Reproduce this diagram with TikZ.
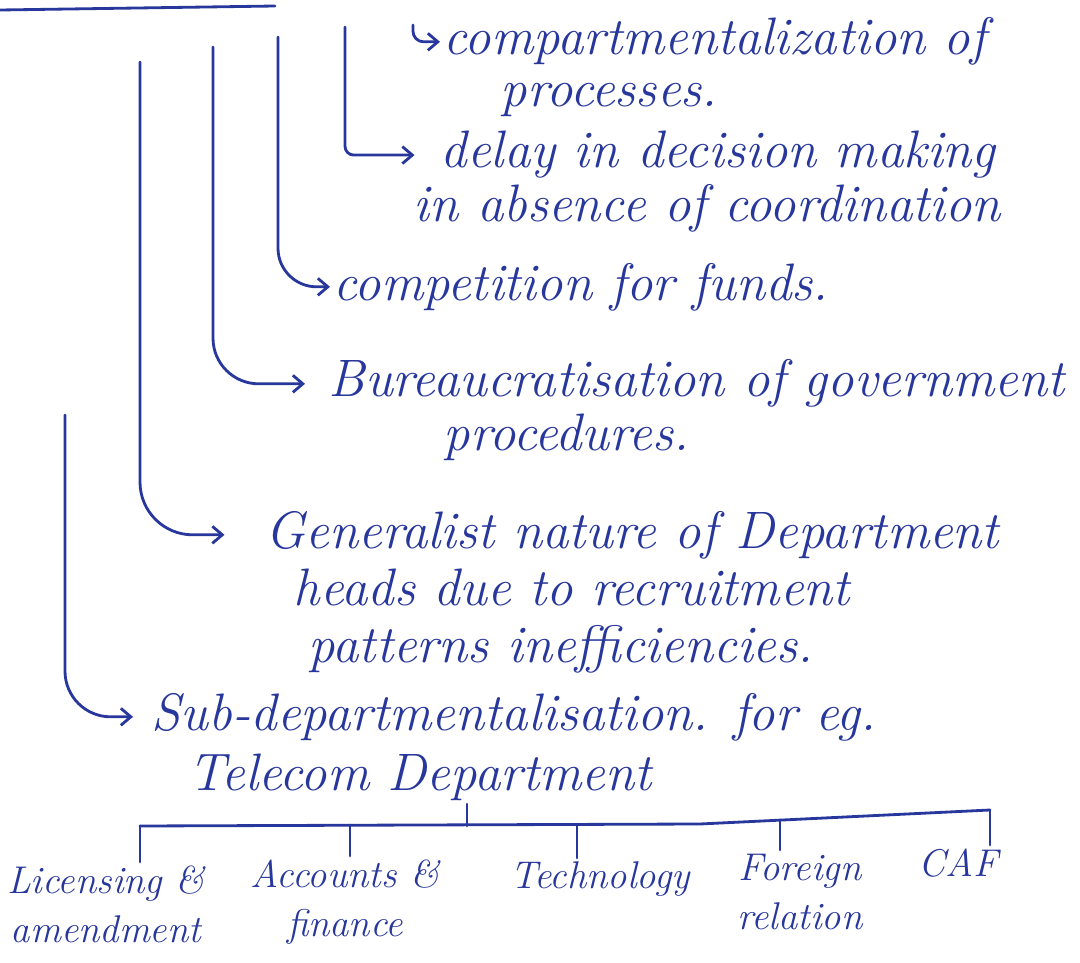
\documentclass[tikz,border=0pt]{standalone}
\usetikzlibrary{arrows.meta}
\definecolor{ink}{RGB}{40,55,155}
\begin{document}
\begin{tikzpicture}[x=0.02cm,y=-0.02cm,
  inkline/.style={draw=ink,line width=1.6pt,line cap=round,line join=round},
  arr/.style={inkline,-{Straight Barb[length=2mm,width=3.4mm,line width=1.6pt]}},
  txt/.style={text=ink,font=\fontsize{30}{36}\selectfont\itshape,anchor=base west,inner sep=2pt},
  leaf/.style={text=ink,font=\fontsize{22}{28}\selectfont\itshape,anchor=north,align=center,inner sep=2pt}]
\useasboundingbox (0,0) rectangle (1080,963);

% header underline (header text is cut off)
\draw[inkline] (0,10) -- (275,6);

% items
\node[txt] (comp)   at (440,55)  {compartmentalization of};
\node[txt] (comp2)  at (497,107) {processes.};
\node[txt] (delay)  at (437,168) {delay in decision making};
\node[txt] (delay2) at (410,222) {in absence of coordination};
\node[txt] (compet) at (330,300) {competition for funds.};
\node[txt] (bur)    at (325,397) {Bureaucratisation of government};
\node[txt] (bur2)   at (440,450) {procedures.};
\node[txt] (gen)    at (262,548) {Generalist nature of Department};
\node[txt] (gen2)   at (290,605) {heads due to recruitment};
\node[txt] (gen3)   at (305,662) {patterns inefficiencies.};
\node[txt] (sub)    at (148,730) {Sub-departmentalisation. for eg.};
\node[txt] (tel)    at (185,790) {Telecom Department};

% connectors
\coordinate (v4) at (413,25);
\coordinate (v3) at (345,27);
\coordinate (v2) at (278,37);
\coordinate (v1b) at (213,47);
\coordinate (v1) at (140,62);
\coordinate (v0) at (65,415);
\draw[arr,rounded corners=6]  (v4)  |- (comp.west);
\draw[arr,rounded corners=5,shorten >=0.45cm]  (v3)  |- (delay.west);
\draw[arr,rounded corners=22] (v2)  |- (compet.west);
\draw[arr,rounded corners=26,shorten >=0.4cm] (v1b) |- (bur.west);
\draw[arr,rounded corners=30,shorten >=0.75cm] (v1)  |- (gen.west);
\draw[arr,rounded corners=26,shorten >=0.3cm] (v0)  |- (sub.west);

% tree
\node[leaf] (lic)  at (106,862) {Licensing \&\\amendment};
\node[leaf] (acc)  at (345,856) {Accounts \&\\finance};
\node[leaf] (tech) at (600,858) {Technology};
\node[leaf] (for)  at (800,850) {Foreign\\relation};
\node[leaf] (caf)  at (958,845) {CAF};

\coordinate (bL) at (140,826);
\coordinate (bM) at (700,824);
\coordinate (bR) at (990,810);
\coordinate (root) at (467,826);
\coordinate (d2) at (350,825);
\coordinate (d3) at (577,825);
\coordinate (d4) at (780,820);
\draw[inkline] (bL) -- (bM) -- (bR);
\draw[inkline] (root) -- (root |- tel.south);
\draw[inkline] (bL) -- (bL |- lic.north);
\draw[inkline] (d2) -- (d2 |- acc.north);
\draw[inkline] (d3) -- (d3 |- tech.north);
\draw[inkline] (d4) -- (d4 |- for.north);
\draw[inkline] (bR) -- (bR |- caf.north);
\end{tikzpicture}
\end{document}
